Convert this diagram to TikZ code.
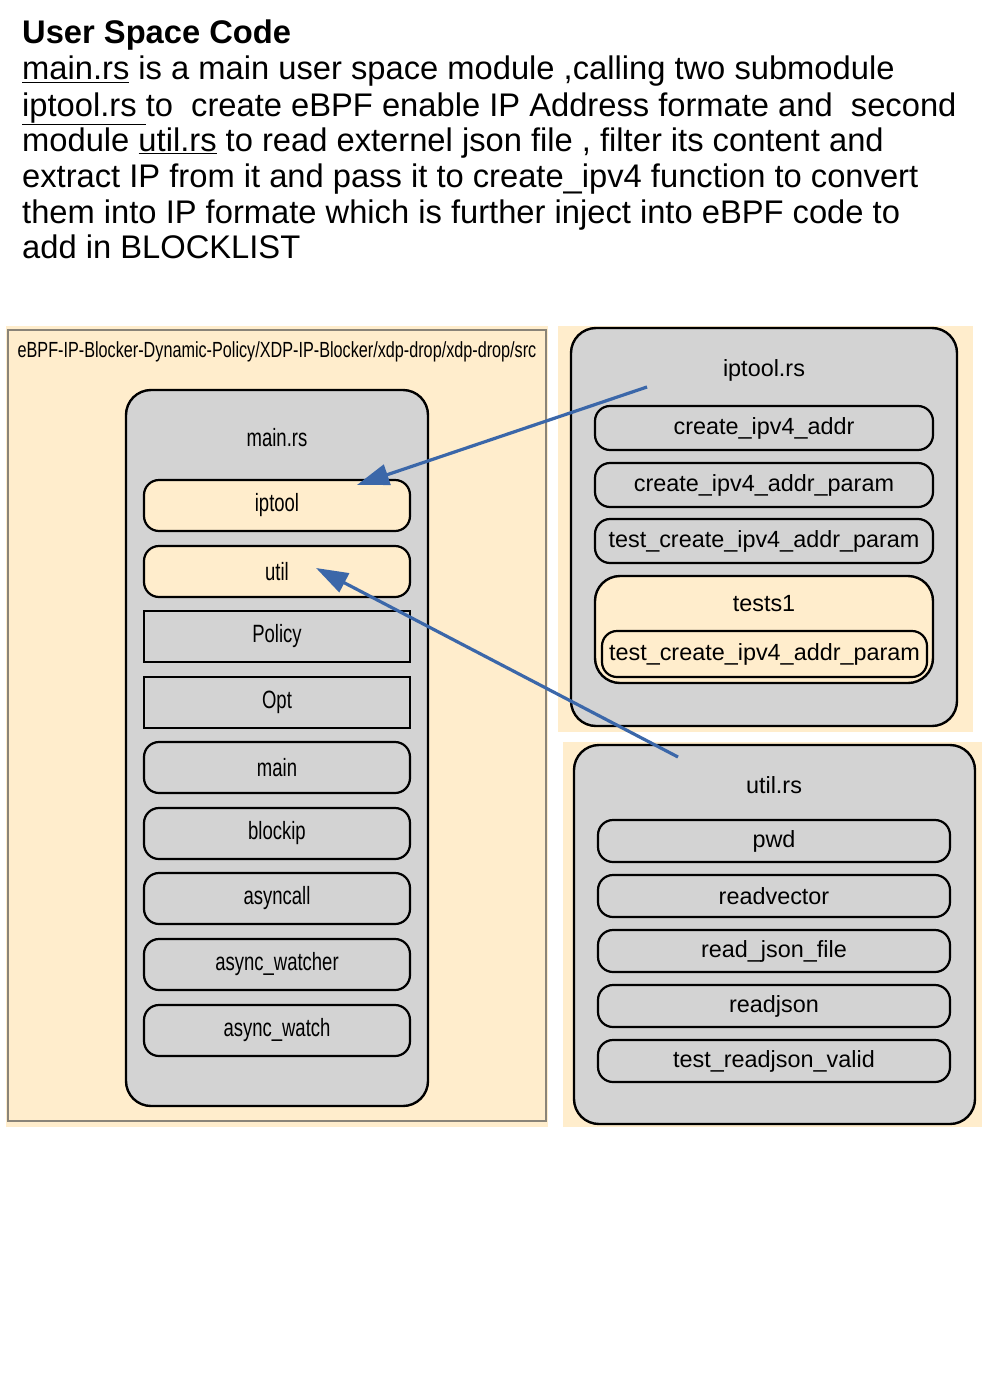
\documentclass[tikz,border=0pt]{standalone}
\usepackage{fontspec}
\setmainfont{Liberation Sans}
\newfontfamily\narrowsf[FakeStretch=0.74]{Liberation Sans}
\usetikzlibrary{arrows.meta, calc, positioning}
\definecolor{cream}{HTML}{FFEDCC}
\definecolor{boxgray}{HTML}{D3D3D3}
\definecolor{linkblue}{HTML}{3B67A9}
\definecolor{framegray}{HTML}{8A8478}

\begin{document}
\begin{tikzpicture}[x=1pt, y=-1pt,
  intro/.style={anchor=base west, inner sep=0pt, font=\fontsize{32.7}{36}\selectfont},
  module/.style={draw, line width=2.4pt, fill=boxgray, rounded corners=25pt, inner sep=0pt},
  fnleft/.style={draw, line width=2.2pt, fill=boxgray, rounded corners=15pt, minimum width=266pt, minimum height=51pt, inner sep=0pt, font=\narrowsf\fontsize{25}{30}\selectfont},
  structleft/.style={fnleft, sharp corners},
  callleft/.style={fnleft, fill=cream},
  fnright/.style={draw, line width=2.2pt, fill=boxgray, rounded corners=15pt, minimum height=44pt, inner sep=0pt, font=\fontsize{23.4}{28}\selectfont},
  title/.style={inner sep=0pt, font=\fontsize{23.4}{28}\selectfont},
  link/.style={linkblue, line width=3.2pt, -{Triangle[length=32pt, width=21pt]}}
]
\useasboundingbox (0,0) rectangle (982,1389);

% Header text
\node[intro, font=\bfseries\fontsize{32.7}{36}\selectfont] (hdr1) at (22,44) {User Space Code};
\node[intro] (hdr2) at (22,80) {\underline{main.rs} is a main user space module ,calling two submodule};
\node[intro] (hdr3) at (22,116) {\underline{iptool.rs\ }to\ \ create eBPF enable IP Address formate and\ \ second};
\node[intro] (hdr4) at (22,151) {module \underline{util.rs} to read externel json file , filter its content and};
\node[intro] (hdr5) at (22,187) {extract IP from it and pass it to create\_ipv4 function to convert};
\node[intro] (hdr6) at (22,223) {them into IP formate which is further inject into eBPF code to};
\node[intro] (hdr7) at (22,258) {add in BLOCKLIST};

% Panels
\fill[cream] (6,326) rectangle (548,1127);
\draw[framegray, line width=1.5pt] (8,330) rectangle (546,1121);
\fill[cream] (558,326) rectangle (973,732);
\fill[cream] (563,742) rectangle (982,1127);

\node[inner sep=0pt, font=\narrowsf\fontsize{21.9}{25}\selectfont] (src) at (277,352)
  {eBPF-IP-Blocker-Dynamic-Policy/XDP-IP-Blocker/xdp-drop/xdp-drop/src};

% main.rs
\node[module, minimum width=302pt, minimum height=716pt] (mainrs) at (277,748) {};
\node[title, font=\narrowsf\fontsize{25}{30}\selectfont] (mainlbl) at (277,438) {main.rs};
\node[callleft] (iptool) at (277,505.5) {iptool};
\node[callleft] (util) at (277,571.5) {util};
\node[structleft] (policy) at (277,636.5) {Policy};
\node[structleft] (opt) at (277,702.5) {Opt};
\node[fnleft] (main) at (277,767.5) {main};
\node[fnleft] (blockip) at (277,833.5) {blockip};
\node[fnleft] (asyncall) at (277,898.5) {asyncall};
\node[fnleft] (watcher) at (277,964.5) {async\_watcher};
\node[fnleft] (watch) at (277,1030.5) {async\_watch};

% iptool.rs
\node[module, minimum width=386pt, minimum height=398pt] (iptoolrs) at (764,527) {};
\node[title] (iptoollbl) at (764,370) {iptool.rs};
\node[fnright, minimum width=338pt] (create) at (764,428) {create\_ipv4\_addr};
\node[fnright, minimum width=338pt] (param) at (764,485) {create\_ipv4\_addr\_param};
\node[fnright, minimum width=338pt] (testparam) at (764,541) {test\_create\_ipv4\_addr\_param};
\node[module, fill=cream, minimum width=338pt, minimum height=107pt] (tests) at (764,629.5) {};
\node[title] (testslbl) at (764,604) {tests1};
\node[fnright, fill=cream, minimum width=325pt, minimum height=46pt] (testinner) at (764.5,654) {test\_create\_ipv4\_addr\_param};

% util.rs
\node[module, minimum width=401pt, minimum height=379pt] (utilrs) at (774.5,934.5) {};
\node[title] (utillbl) at (774,785) {util.rs};
\node[fnright, minimum width=352pt, minimum height=42pt] (pwd) at (774,841) {pwd};
\node[fnright, minimum width=352pt, minimum height=42pt] (readvec) at (774,896) {readvector};
\node[fnright, minimum width=352pt, minimum height=42pt] (readfile) at (774,951) {read\_json\_file};
\node[fnright, minimum width=352pt, minimum height=42pt] (readjson) at (774,1006) {readjson};
\node[fnright, minimum width=352pt, minimum height=42pt] (valid) at (774,1061) {test\_readjson\_valid};

% Links
\coordinate (fromiptool) at (647,387);
\coordinate (fromutil) at (678,757);
\draw[link] (fromiptool) -- ($(iptool.north)+(80,6)$);
\draw[link] (fromutil) -- ($(util.center)+(39,-3.5)$);
\end{tikzpicture}
\end{document}
